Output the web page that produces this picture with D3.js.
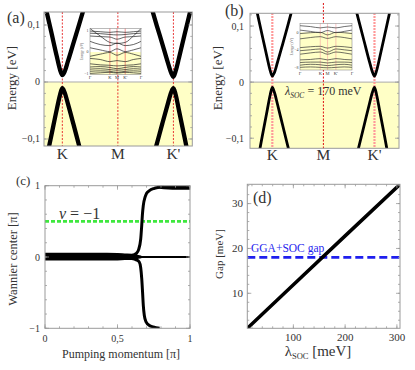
<!DOCTYPE html>
<html><head><meta charset="utf-8">
<script src="https://cdn.jsdelivr.net/npm/d3@7"></script>
<style>body{margin:0;background:#fff}svg{display:block}</style>
</head><body><script>
// ---------------- DATA ----------------
const kLabels = ["K", "M", "K'"];
const kPos = [0, 1, 2];
const eTicks = [-0.1, 0, 0.1];
const eTickLabels = ["\u22120,1", "0", "0,1"];

// (a) low-energy bands (k in units of K-M distance, E in eV)
const aCondK_k = [-0.32, -0.2, -0.1, -0.04, 0, 0.04, 0.1, 0.2, 0.3, 0.4];
const aCondK_E = [0.139, 0.088, 0.045, 0.021, 0.012, 0.018, 0.036, 0.068, 0.100, 0.133];
const aValK_k = [-0.28, -0.2, -0.1, -0.04, 0, 0.04, 0.1, 0.2, 0.3, 0.36];
const aValK_E = [-0.132, -0.095, -0.048, -0.022, -0.011, -0.018, -0.038, -0.074, -0.111, -0.133];
const aCondK2_k = [1.58, 1.7, 1.8, 1.9, 1.96, 2, 2.04, 2.1, 2.2, 2.3, 2.36];
const aCondK2_E = [0.139, 0.099, 0.067, 0.034, 0.016, 0.009, 0.019, 0.042, 0.083, 0.123, 0.148];
const aValK2_k = [1.64, 1.7, 1.8, 1.9, 1.96, 2, 2.04, 2.1, 2.2, 2.28];
const aValK2_E = [-0.130, -0.109, -0.073, -0.038, -0.018, -0.011, -0.022, -0.050, -0.097, -0.135];

// (b) tight-binding bands, lambda_SOC = 170 meV
const bCondK_k = [-0.34, -0.2, -0.1, -0.04, 0, 0.04, 0.1, 0.2, 0.3, 0.4];
const bCondK_E = [0.142, 0.084, 0.043, 0.020, 0.0107, 0.017, 0.035, 0.067, 0.100, 0.134];
const bValK_k = [-0.28, -0.2, -0.1, -0.04, 0, 0.04, 0.1, 0.2, 0.3, 0.36];
const bValK_E = [-0.137, -0.098, -0.050, -0.022, -0.0095, -0.018, -0.039, -0.076, -0.113, -0.135];
const bCondK2_k = [1.6, 1.7, 1.8, 1.9, 1.96, 2, 2.04, 2.1, 2.2, 2.34];
const bCondK2_E = [0.142, 0.107, 0.072, 0.037, 0.018, 0.0107, 0.020, 0.043, 0.084, 0.142];
const bValK2_k = [1.64, 1.7, 1.8, 1.9, 1.96, 2, 2.04, 2.1, 2.2, 2.28];
const bValK2_E = [-0.135, -0.113, -0.076, -0.039, -0.018, -0.0095, -0.022, -0.050, -0.098, -0.137];

// insets: path positions (Γ K M K' Γ) and sampled bands
const insetPathLabels = ["\u0393", "K", "M", "K'", "\u0393"];
const insetPathPos = [0, 0.39, 0.53, 0.69, 1];
const insetX = [0, 0.2, 0.39, 0.53, 0.69, 0.85, 1];
const insetABands = [
  [0.98, 0.95, 0.92, 0.95, 0.92, 0.95, 0.98],
  [0.88, 0.86, 0.82, 0.80, 0.82, 0.86, 0.88],
  [0.75, 0.72, 0.70, 0.60, 0.70, 0.72, 0.75],
  [1.10, 0.75, 0.45, 0.40, 0.45, 0.75, 1.10],
  [0.50, 0.35, 0.30, 0.42, 0.30, 0.35, 0.50],
  [0.20, 0.10, 0.02, 0.15, 0.02, 0.10, 0.20],
  [-0.20, -0.10, -0.02, -0.15, -0.02, -0.10, -0.20],
  [-0.30, -0.35, -0.45, -0.40, -0.45, -0.35, -0.30],
  [-0.55, -0.60, -0.62, -0.65, -0.62, -0.60, -0.55],
  [-0.70, -0.68, -0.72, -0.78, -0.72, -0.68, -0.70],
  [-0.80, -0.78, -0.82, -0.85, -0.82, -0.78, -0.80],
  [-0.90, -0.88, -0.90, -0.95, -0.90, -0.88, -0.90],
  [-1.00, -0.97, -0.95, -0.98, -0.95, -0.97, -1.00]
];
const insetATicks = [1, 0, -1];
const insetBBands = [
  [1.5, 1.3, 1.0, 1.2, 1.0, 1.3, 1.5],
  [0.5, 0.2, -0.1, 0.4, -0.1, 0.2, 0.5],
  [-0.3, -0.1, 0.0, -0.6, 0.0, -0.1, -0.3],
  [-1.5, -1.2, -1.0, -1.4, -1.0, -1.2, -1.5],
  [-3.5, -3.3, -3.2, -3.6, -3.2, -3.3, -3.5],
  [-4.2, -4.0, -3.8, -4.5, -3.8, -4.0, -4.2],
  [-5.0, -4.7, -4.5, -5.0, -4.5, -4.7, -5.0],
  [-6.3, -6.2, -6.0, -6.3, -6.0, -6.2, -6.3],
  [-6.9, -6.8, -6.8, -7.0, -6.8, -6.8, -6.9],
  [-7.5, -7.3, -7.4, -7.6, -7.4, -7.3, -7.5],
  [-8.0, -7.9, -8.0, -8.1, -8.0, -7.9, -8.0]
];
const insetBTicks = [0, -4, -8];

// (c) Wannier centre flow
const wcBandX = [0, 0.1, 0.2, 0.3, 0.4, 0.5, 0.55, 0.6, 0.63, 0.66];
const wcBandHi = [0.05, 0.05, 0.05, 0.05, 0.048, 0.045, 0.04, 0.035, 0.025, 0.01];
const wcBandLo = [-0.04, -0.04, -0.04, -0.04, -0.04, -0.037, -0.033, -0.03, -0.02, -0.01];
const wcTopX = [0.78, 0.82, 0.88, 0.94, 1.0];
const wcTopLo = [0.975, 0.96, 0.955, 0.955, 0.955];
const wcUpX = [0.60, 0.63, 0.645, 0.66, 0.667, 0.672, 0.678, 0.69, 0.70, 0.72, 0.75, 0.78, 0.82];
const wcUpY = [0.02, 0.05, 0.10, 0.25, 0.44, 0.60, 0.725, 0.84, 0.89, 0.93, 0.96, 0.975, 0.985];
const wcDownX = [0.60, 0.63, 0.65, 0.66, 0.667, 0.673, 0.678, 0.685, 0.697, 0.72, 0.747, 0.79];
const wcDownY = [-0.02, -0.04, -0.07, -0.15, -0.30, -0.50, -0.68, -0.82, -0.91, -0.96, -0.98, -1.0];
const wcFlatX = [0.6, 1.0];
const wcFlatY = [0, 0];
const nuLevel = 0.5;
const cYTicks = [-1, 0, 1];
const cYTickLabels = ["\u22121", "0", "1"];
const cXTicks = [0, 0.5, 1];
const cXTickLabels = ["0", "0,5", "1"];

// (d) gap vs lambda_SOC
const lambdaSOC = [11, 100, 200, 306];
const gapMeV = [2.2, 11.9, 22.8, 34.3];
const ggaGap = 18;
const dXTicks = [100, 200, 300];
const dYTicks = [10, 20, 30];

// ---------------- DRAW ----------------
const FONT = "'Liberation Serif', 'Times New Roman', Times, serif";
const svg = d3.select("body").append("svg").attr("width", 415).attr("height", 370)
  .attr("font-family", FONT).style("font-family", FONT);
const FR = "#9a9a9a", TXT = "#333", YEL = "#ffffc6";

function ln(g, x1, y1, x2, y2, c, w) {
  return g.append("line").attr("x1", x1).attr("y1", y1).attr("x2", x2).attr("y2", y2)
    .attr("stroke", c || FR).attr("stroke-width", w || 0.8);
}
function clip(id, xs, ys) {
  svg.append("clipPath").attr("id", id).append("rect")
    .attr("x", xs.range()[0]).attr("y", ys.range()[1])
    .attr("width", xs.range()[1] - xs.range()[0]).attr("height", ys.range()[0] - ys.range()[1]);
}
function box(xs, ys) {
  svg.append("rect").attr("x", xs.range()[0]).attr("y", ys.range()[1])
    .attr("width", xs.range()[1] - xs.range()[0]).attr("height", ys.range()[0] - ys.range()[1])
    .attr("fill", "none").attr("stroke", FR).attr("stroke-width", 1);
}
function yTicks(xs, ys, major, minor) {
  const [xl, xr] = xs.range();
  minor.forEach(v => { const y = ys(v); ln(svg, xl, y, xl + 2, y); ln(svg, xr, y, xr - 2, y); });
  major.forEach(v => { const y = ys(v); ln(svg, xl, y, xl + 4, y); ln(svg, xr, y, xr - 4, y); });
}
function xTicks(xs, ys, major, minor) {
  const [yb, yt] = ys.range();
  minor.forEach(v => { const x = xs(v); ln(svg, x, yb, x, yb - 2); ln(svg, x, yt, x, yt + 2); });
  major.forEach(v => { const x = xs(v); ln(svg, x, yb, x, yb - 4); ln(svg, x, yt, x, yt + 4); });
}
function txt(x, y, s, size, anchor) {
  return svg.append("text").attr("x", x).attr("y", y).attr("font-size", size)
    .attr("font-family", FONT).attr("text-anchor", anchor || "start").attr("fill", TXT).text(s);
}
function rotLabel(x, y, s, size) {
  svg.append("text").attr("transform", `translate(${x},${y}) rotate(-90)`).attr("font-family", FONT)
    .attr("text-anchor", "middle").attr("font-size", size).attr("fill", TXT).text(s);
}
function band(g, xs, ys, ks, es, w) {
  const pts = ks.map((k, i) => [xs(k), ys(es[i])]);
  g.append("path").attr("d", d3.line().curve(d3.curveMonotoneX)(pts))
    .attr("fill", "none").attr("stroke", "#000").attr("stroke-width", w)
    .attr("stroke-linejoin", "round");
}

function inset(x0, y0, x1, y1, yDom, bands, tickVals, lineCol, redCol) {
  const xs = d3.scaleLinear().domain([0, 1]).range([x0, x1]);
  const ys = d3.scaleLinear().domain(yDom).range([y1, y0]);
  const g = svg.append("g");
  g.append("rect").attr("x", x0).attr("y", y0).attr("width", x1 - x0).attr("height", y1 - y0).attr("fill", "#fff");
  g.append("rect").attr("x", x0).attr("y", ys(0)).attr("width", x1 - x0).attr("height", y1 - ys(0)).attr("fill", YEL);
  insetPathPos.slice(1, 4).forEach(p => ln(g, xs(p), y0, xs(p), y1, redCol, 0.6));
  const gen = d3.line().curve(d3.curveMonotoneX);
  bands.forEach(b => {
    g.append("path").attr("d", gen(insetX.map((x, i) => [xs(x), ys(b[i])])))
      .attr("fill", "none").attr("stroke", lineCol).attr("stroke-width", 0.7);
  });
  g.append("rect").attr("x", x0).attr("y", y0).attr("width", x1 - x0).attr("height", y1 - y0)
    .attr("fill", "none").attr("stroke", "#777").attr("stroke-width", 0.5);
  tickVals.forEach(v => {
    g.append("text").attr("x", x0 - 1.5).attr("y", ys(v) + 1.3).attr("font-size", 4)
      .attr("text-anchor", "end").attr("fill", "#444").text(v < 0 ? "\u2212" + Math.abs(v) : String(v));
  });
  insetPathLabels.forEach((s, i) => {
    g.append("text").attr("x", xs(insetPathPos[i])).attr("y", y1 + 4.5).attr("font-size", 4.5)
      .attr("text-anchor", "middle").attr("fill", "#444").text(s);
  });
  g.append("text").attr("transform", `translate(${x0 - 7},${(y0 + y1) / 2}) rotate(-90)`)
    .attr("font-size", 3.5).attr("text-anchor", "middle").attr("fill", "#555").text("Energy (eV)");
}

// ----- Panel (a) -----
{
  const xs = d3.scaleLinear().domain([-0.33, 2.34]).range([44, 192.3]);
  const ys = d3.scaleLinear().domain([-0.1123, 0.1228]).range([146, 12]);
  clip("ca", xs, ys);
  const g = svg.append("g").attr("clip-path", "url(#ca)");
  g.append("rect").attr("x", 44).attr("y", ys(0)).attr("width", xs.range()[1] - 44)
    .attr("height", 146 - ys(0)).attr("fill", YEL);
  ln(g, 44, ys(0), xs.range()[1], ys(0), "#aaa", 1);
  kPos.forEach(p => ln(g, xs(p), 12, xs(p), 146, "#e52222", 0.9).attr("stroke-dasharray", "2,1.5"));
  band(g, xs, ys, aCondK_k, aCondK_E, 4.3);
  band(g, xs, ys, aValK_k, aValK_E, 4.3);
  band(g, xs, ys, aCondK2_k, aCondK2_E, 4.3);
  band(g, xs, ys, aValK2_k, aValK2_E, 4.3);
  inset(90, 28.5, 141, 74.5, [-1.05, 1.1], insetABands, insetATicks, "#222", "#e44");
  box(xs, ys);
  yTicks(xs, ys, eTicks, d3.range(-0.1, 0.121, 0.02));
  eTicks.forEach((v, i) => txt(40, ys(v) + 3.5, eTickLabels[i], 10, "end"));
  kPos.forEach((p, i) => txt(xs(p), 159, kLabels[i], 15.5, "middle"));
  rotLabel(16, 78, "Energy [eV]", 13);
  txt(7, 23, "(a)", 16);
}

// ----- Panel (b) -----
{
  const xs = d3.scaleLinear().domain([-0.437, 2.48]).range([250, 399]);
  const ys = d3.scaleLinear().domain([-0.118, 0.1227]).range([148.3, 13.3]);
  clip("cb", xs, ys);
  const g = svg.append("g").attr("clip-path", "url(#cb)");
  g.append("rect").attr("x", 250).attr("y", ys(0)).attr("width", 149)
    .attr("height", 148.3 - ys(0)).attr("fill", YEL);
  ln(g, 250, ys(0), 399, ys(0), "#aaa", 1);
  [0, 2].forEach(p => ln(g, xs(p), 13, xs(p), 149, "#ff9a9a", 2.2).attr("stroke-dasharray", "2,1"));
  band(g, xs, ys, bCondK_k, bCondK_E, 2.8);
  band(g, xs, ys, bValK_k, bValK_E, 2.8);
  band(g, xs, ys, bCondK2_k, bCondK2_E, 2.8);
  band(g, xs, ys, bValK2_k, bValK2_E, 2.8);
  ln(svg, xs(1), 3, xs(1), 148.3, "#dd1111", 1).attr("stroke-dasharray", "2,1.5");
  inset(300, 23.5, 352, 70, [-8.6, 2.0], insetBBands, insetBTicks, "#333", "#f7a0a0");
  box(xs, ys);
  yTicks(xs, ys, eTicks, d3.range(-0.1, 0.121, 0.02));
  eTicks.forEach((v, i) => txt(244, ys(v) + 3.5, eTickLabels[i], 10, "end"));
  kPos.forEach((p, i) => txt(xs(p), 160, kLabels[i], 15.5, "middle"));
  rotLabel(222, 78, "Energy [eV]", 13);
  txt(225, 16, "(b)", 16);
  const t = txt(285, 95, "", 12);
  t.append("tspan").attr("font-style", "italic").text("\u03bb");
  t.append("tspan").attr("font-style", "italic").attr("font-size", 7.5).attr("dy", 2.5).text("SOC");
  t.append("tspan").attr("dy", -2.5).text(" = 170 meV");
}

// ----- Panel (c) -----
{
  const xs = d3.scaleLinear().domain([0, 1]).range([45, 190]);
  const ys = d3.scaleLinear().domain([-1, 1]).range([328.3, 185.7]);
  clip("cc", xs, ys);
  const g = svg.append("g").attr("clip-path", "url(#cc)");
  ln(g, xs(0), ys(nuLevel), xs(1), ys(nuLevel), "#3ee83e", 2.6).attr("stroke-dasharray", "4,2");
  g.append("path").attr("d", d3.area().x((d, i) => xs(wcBandX[i])).y0((d, i) => ys(wcBandLo[i])).y1((d, i) => ys(wcBandHi[i])).curve(d3.curveMonotoneX)(wcBandX))
    .attr("fill", "#000").attr("stroke", "#000").attr("stroke-width", 1.5);
  g.append("path").attr("d", d3.area().x((d, i) => xs(wcTopX[i])).y0((d, i) => ys(wcTopLo[i])).y1(ys(1)).curve(d3.curveMonotoneX)(wcTopX))
    .attr("fill", "#000").attr("stroke", "#000").attr("stroke-width", 1.5);
  const lg = d3.line().curve(d3.curveMonotoneX);
  [[wcUpX, wcUpY, 3], [wcDownX, wcDownY, 3], [wcFlatX, wcFlatY, 2]].forEach(([xa, ya, w]) => {
    g.append("path").attr("d", lg(xa.map((x, i) => [xs(x), ys(ya[i])])))
      .attr("fill", "none").attr("stroke", "#000").attr("stroke-width", w);
  });
  box(xs, ys);
  yTicks(xs, ys, cYTicks, d3.range(-1, 1.01, 0.2));
  xTicks(xs, ys, cXTicks, d3.range(0, 1.01, 0.1));
  cYTicks.forEach((v, i) => txt(40, ys(v) + 3.5, cYTickLabels[i], 10, "end"));
  cXTicks.forEach((v, i) => txt(xs(v), 342, cXTickLabels[i], 10, "middle"));
  rotLabel(17, 259, "Wannier center [\u03c0]", 12.5);
  txt(121, 358, "Pumping momentum [\u03c0]", 12, "middle");
  txt(16, 185, "(c)", 13);
  const t = txt(59, 219, "", 16);
  t.append("tspan").attr("font-style", "italic").text("\u03bd");
  t.append("tspan").text(" = \u22121");
}

// ----- Panel (d) -----
{
  const xs = d3.scaleLinear().domain([11, 306]).range([247.3, 400]);
  const ys = d3.scaleLinear().domain([2.2, 34.3]).range([328.3, 184.3]);
  clip("cd", xs, ys);
  const g = svg.append("g").attr("clip-path", "url(#cd)");
  ln(g, xs(11), ys(ggaGap), xs(306), ys(ggaGap), "#1f1fee", 2.6).attr("stroke-dasharray", "8,4");
  g.append("path").attr("d", d3.line()(lambdaSOC.map((l, i) => [xs(l), ys(gapMeV[i])])))
    .attr("fill", "none").attr("stroke", "#000").attr("stroke-width", 3.5);
  box(xs, ys);
  yTicks(xs, ys, dYTicks, d3.range(4, 34.1, 2));
  xTicks(xs, ys, dXTicks, d3.range(20, 306, 20));
  dYTicks.forEach(v => txt(243, ys(v) + 3.5, String(v), 11, "end"));
  dXTicks.forEach(v => txt(xs(v), 341, String(v), 11, "middle"));
  rotLabel(223, 254, "Gap [meV]", 11);
  txt(253, 203, "(d)", 16);
  txt(251, 252, "GGA+SOC gap", 11.5).attr("fill", "#1f1fee");
  const t = txt(318, 356, "", 15, "middle");
  t.append("tspan").text("\u03bb");
  t.append("tspan").attr("font-size", 8.5).attr("dy", 2.5).text("SOC");
  t.append("tspan").attr("dy", -2.5).text(" [meV]");
}
</script></body></html>
